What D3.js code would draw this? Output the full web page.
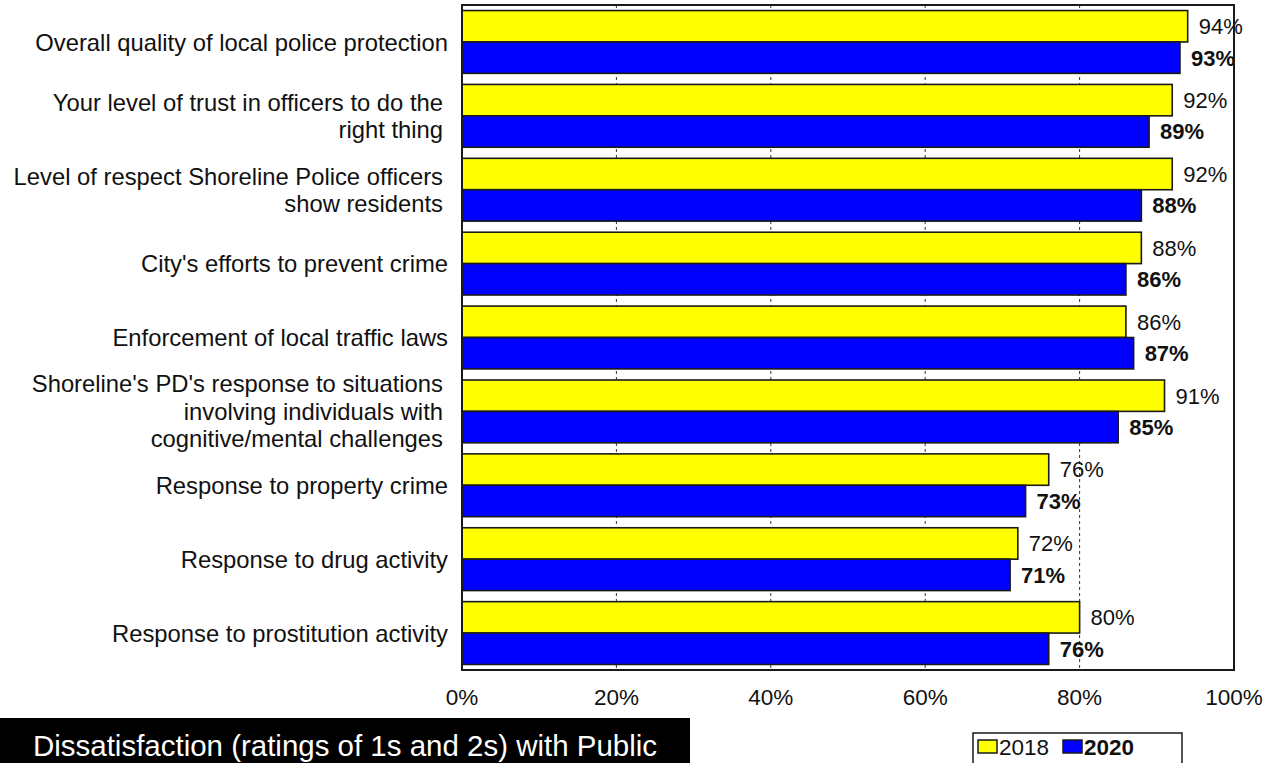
<!DOCTYPE html>
<html><head><meta charset="utf-8">
<script src="https://cdn.jsdelivr.net/npm/d3@7"></script>
<style>
html,body{margin:0;padding:0;background:#fff;}
svg{display:block;font-family:"Liberation Sans",Arial,sans-serif;}
</style></head>
<body><svg id="chart" width="1270" height="763"></svg>
<script>
const categories = [
  ["Overall quality of local police protection"],
  ["Your level of trust in officers to do the","right thing"],
  ["Level of respect Shoreline Police officers","show residents"],
  ["City's efforts to prevent crime"],
  ["Enforcement of local traffic laws"],
  ["Shoreline's PD's response to situations","involving individuals with","cognitive/mental challenges"],
  ["Response to property crime"],
  ["Response to drug activity"],
  ["Response to prostitution activity"]
];
const series = ["2018","2020"];
const values2018 = [94, 92, 92, 88, 86, 91, 76, 72, 80];
const values2020 = [93, 89, 88, 86, 87, 85, 73, 71, 76];
const xTicks = [0, 20, 40, 60, 80, 100];
const titleText = "Dissatisfaction (ratings of 1s and 2s) with Public";

const colors = {"2018":"#ffff00","2020":"#0000ff"};
const svg = d3.select("#chart");
const L = 462, R = 1234, T = 5, B = 670;
const x = d3.scaleLinear().domain([0,100]).range([L,R]);
const y = d3.scaleBand().domain(d3.range(categories.length)).range([T,B]).paddingInner(0.15).paddingOuter(0.075);
const ys = d3.scaleBand().domain(series).range([0,y.bandwidth()]);

const data = categories.map((c,i)=>({i, label:c, v:{"2018":values2018[i],"2020":values2020[i]}}));

// gridlines
svg.append("g").selectAll("line").data(xTicks.filter(t=>t>0&&t<100)).join("line")
  .attr("x1",d=>x(d)).attr("x2",d=>x(d)).attr("y1",T).attr("y2",B)
  .attr("stroke","#333").attr("stroke-width",1).attr("stroke-dasharray","3,3");

// bars
const g = svg.append("g").selectAll("g").data(data).join("g")
  .attr("transform",d=>`translate(0,${y(d.i)})`);
series.forEach(s=>{
  g.append("rect").attr("x",L).attr("y",ys(s))
    .attr("width",d=>x(d.v[s])-L).attr("height",ys.bandwidth())
    .attr("fill",colors[s]).attr("stroke","#1a1a1a").attr("stroke-width",1.6);
});

// frame
svg.append("rect").attr("x",L).attr("y",T).attr("width",R-L).attr("height",B-T)
  .attr("fill","none").attr("stroke","#1a1a1a").attr("stroke-width",2);

// value labels
series.forEach(s=>{
  g.append("text").attr("x",d=>x(d.v[s])+11).attr("y",ys(s)+ys.bandwidth()/2)
    .attr("dy","0.36em").attr("font-size",22)
    .attr("font-weight",s==="2020"?"bold":"normal").attr("fill","#111")
    .text(d=>d.v[s]+"%");
});

// category labels
g.append("text").attr("text-anchor","end").attr("font-size",23.8).attr("fill","#111")
  .each(function(d){
    const n = d.label.length, lh = 27.5;
    const t = d3.select(this);
    d.label.forEach((line,k)=>{
      t.append("tspan").attr("x",n>1?443:448)
        .attr("y",y.bandwidth()/2 + (k-(n-1)/2)*lh).attr("dy","0.36em").text(line);
    });
  });

// x axis labels
svg.append("g").selectAll("text").data(xTicks).join("text")
  .attr("x",d=>x(d)).attr("y",705).attr("text-anchor","middle")
  .attr("font-size",22.5).attr("fill","#111").text(d=>d+"%");

// title box
svg.append("rect").attr("x",0).attr("y",718).attr("width",690).attr("height",50).attr("fill","#000");
svg.append("text").attr("x",33).attr("y",756).attr("fill","#fff")
  .attr("font-size",30).attr("textLength",624).attr("lengthAdjust","spacingAndGlyphs")
  .text(titleText);

// legend
const lg = svg.append("g");
lg.append("rect").attr("x",973).attr("y",733).attr("width",209).attr("height",40)
  .attr("fill","#fff").attr("stroke","#1a1a1a").attr("stroke-width",1.5);
const legX = {"2018":978,"2020":1063};
series.forEach(s=>{
  lg.append("rect").attr("x",legX[s]).attr("y",740).attr("width",19).attr("height",13)
    .attr("fill",colors[s]).attr("stroke","#1a1a1a").attr("stroke-width",1.5);
  lg.append("text").attr("x",legX[s]+21).attr("y",747).attr("dy","0.36em")
    .attr("font-size",22.5).attr("font-weight",s==="2020"?"bold":"normal").attr("fill","#111").text(s);
});
</script></body></html>
